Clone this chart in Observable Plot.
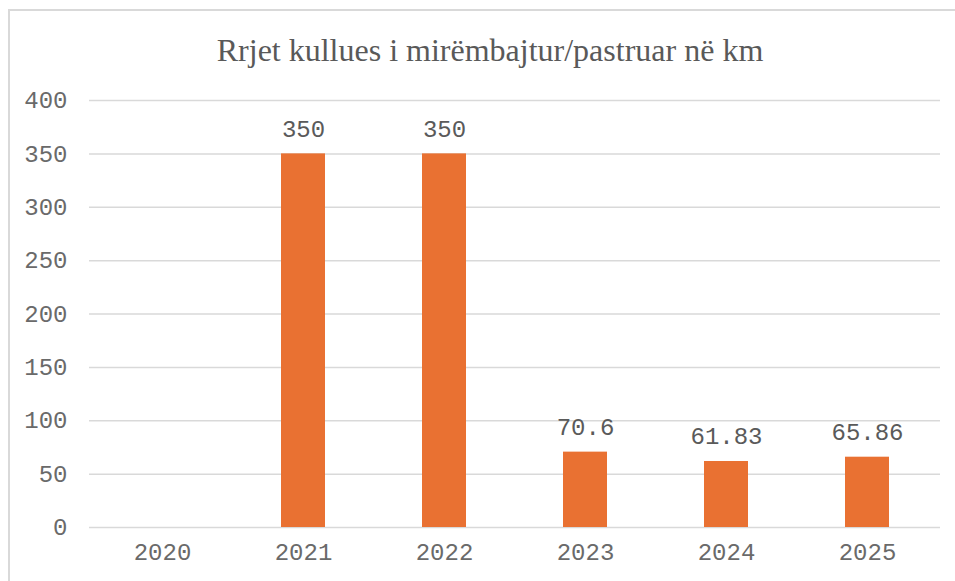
<!DOCTYPE html>
<html>
<head>
<meta charset="utf-8">
<script src="https://cdn.jsdelivr.net/npm/d3@7"></script>
<script src="https://cdn.jsdelivr.net/npm/@observablehq/plot@0.6"></script>
<style>
  html, body { margin: 0; padding: 0; background: #fff; overflow: hidden; }
  body { position: relative; width: 955px; height: 581px; }
  #frame { position: absolute; left: 8px; top: 9px; width: 990px; height: 620px;
           border-left: 2px solid #d9d9d9; border-top: 2px solid #d9d9d9; box-sizing: border-box; }
  #title { position: absolute; left: 0; top: 30px; width: 980px; text-align: center;
           font-family: "Liberation Serif", serif; font-size: 32px; color: #595959; line-height: 40px; }
  #chart { position: absolute; left: 0; top: 75px; }
</style>
</head>
<body>
<div id="frame"></div>
<div id="title">Rrjet kullues i mirëmbajtur/pastruar në km</div>
<div id="chart"></div>
<script>
const years = ["2020", "2021", "2022", "2023", "2024", "2025"];
const values = [null, 350, 350, 70.6, 61.83, 65.86];
const yTicks = [0, 50, 100, 150, 200, 250, 300, 350, 400];

const data = years.map((y, i) => ({year: y, value: values[i]}));
const withValue = data.filter(d => d.value != null);

const chart = Plot.plot({
  width: 955,
  height: 506,
  marginLeft: 89,
  marginRight: 15,
  marginTop: 25,
  marginBottom: 54,
  style: { fontFamily: "'Liberation Mono', monospace", fontSize: "24px", color: "#6a6a6a", background: "transparent" },
  x: { domain: years, paddingInner: 0.69, paddingOuter: 0.345, align: 0.5, label: null, tickSize: 0, tickPadding: 15 },
  y: { domain: [0, 400], ticks: yTicks, label: null, tickSize: 0, tickPadding: 22 },
  marks: [
    Plot.ruleY(yTicks, { stroke: "#d9d9d9", strokeWidth: 1.5, strokeOpacity: 1 }),
    Plot.barY(withValue, { x: "year", y: "value", fill: "#E97132" }),
    Plot.text(withValue, { x: "year", y: "value", text: d => String(d.value), dy: -25,
      fill: "#5a5a5a", fontSize: 24, fontFamily: "'Liberation Mono', monospace" })
  ]
});
document.getElementById("chart").appendChild(chart);
</script>
</body>
</html>
